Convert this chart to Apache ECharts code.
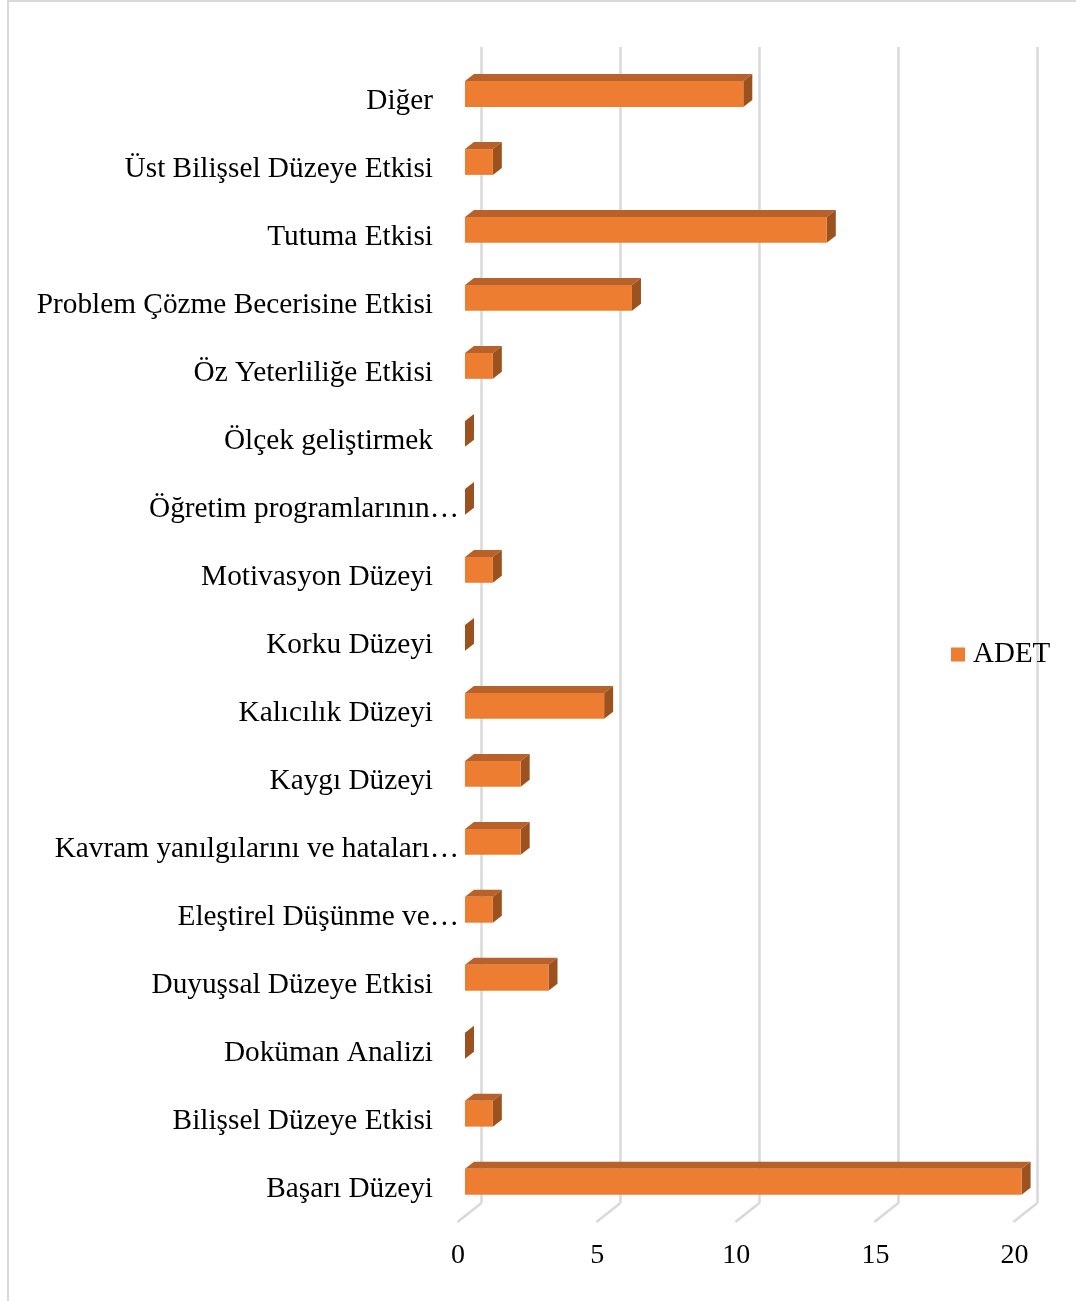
<!DOCTYPE html>
<html>
<head>
<meta charset="utf-8">
<title>ADET</title>
<script src="https://cdn.jsdelivr.net/npm/echarts@6/dist/echarts.min.js"></script>
<style>
  html, body { margin: 0; padding: 0; background: #ffffff; }
  #chart { width: 1076px; height: 1301px; }
</style>
</head>
<body>
<div id="chart"></div>
<script>
// Categories listed bottom → top, as on the category axis
const categories = [
  'Başarı Düzeyi',
  'Bilişsel Düzeye Etkisi',
  'Doküman Analizi',
  'Duyuşsal Düzeye Etkisi',
  'Eleştirel Düşünme ve…',
  'Kavram yanılgılarını ve hataları…',
  'Kaygı Düzeyi',
  'Kalıcılık Düzeyi',
  'Korku Düzeyi',
  'Motivasyon Düzeyi',
  'Öğretim programlarının…',
  'Ölçek geliştirmek',
  'Öz Yeterliliğe Etkisi',
  'Problem Çözme Becerisine Etkisi',
  'Tutuma Etkisi',
  'Üst Bilişsel Düzeye Etkisi',
  'Diğer'
];
const adet = [20, 1, 0, 3, 1, 2, 2, 5, 0, 1, 0, 0, 1, 6, 13, 1, 10];
const xTicks = [0, 5, 10, 15, 20];
const seriesName = 'ADET';

const FONT = "'Liberation Serif', 'Times New Roman', serif";
const GRID_COLOR = '#d9d9d9';
const FRONT = '#ED7D31';
const TOP = '#B8612A';
const SIDE = '#9C521F';
const DEPTH_X = 9, DEPTH_Y = -7;

const chart = echarts.init(document.getElementById('chart'), null, { renderer: 'canvas' });

// 3D box: front face, top face and right side face
function renderBar(params, api) {
  const idx = api.value(1);
  const v = api.value(0);
  const p0 = api.coord([0, idx]);
  const p1 = api.coord([v, idx]);
  const h = api.size([0, 1])[1] * 0.38;
  const x0 = p0[0], x1 = p1[0];
  const yT = p1[1] - h / 2, yB = p1[1] + h / 2;
  return {
    type: 'group',
    children: [
      { type: 'polygon', shape: { points: [[x0, yT], [x1, yT], [x1 + DEPTH_X, yT + DEPTH_Y], [x0 + DEPTH_X, yT + DEPTH_Y]] },
        style: { fill: TOP } },
      { type: 'polygon', shape: { points: [[x1, yT], [x1 + DEPTH_X, yT + DEPTH_Y], [x1 + DEPTH_X, yB + DEPTH_Y], [x1, yB]] },
        style: { fill: SIDE } },
      { type: 'rect', shape: { x: x0, y: yT, width: x1 - x0, height: h },
        style: { fill: FRONT } }
    ]
  };
}

// Floor lines running forward from the foot of each back-wall gridline
function renderFloor(params, api) {
  const p = api.coord([api.value(0), 0]);
  return {
    type: 'line',
    shape: { x1: p[0], y1: p[1], x2: p[0] - 24, y2: p[1] + 19 },
    style: { stroke: GRID_COLOR, lineWidth: 2.5 }
  };
}

const shortLabels = new Set(categories.filter(c => !c.endsWith('…')));

const option = {
  backgroundColor: '#ffffff',
  animation: false,
  graphic: [{
    type: 'rect',
    shape: { x: 8, y: 1, width: 1200, height: 1400 },
    style: { fill: 'none', stroke: GRID_COLOR, lineWidth: 2 },
    silent: true, z: -10
  }],
  legend: {
    data: [seriesName],
    left: 946,
    top: 635,
    icon: 'rect',
    itemWidth: 14,
    itemHeight: 14,
    textStyle: { fontFamily: FONT, fontSize: 29, color: '#000', padding: [0, 0, 0, 3] }
  },
  grid: [
    { left: 481.5, right: 38.7, top: 47, bottom: 98 },
    { left: 465, right: 54.4, top: 60, bottom: 85.3 }
  ],
  xAxis: [
    {
      gridIndex: 0, type: 'value', min: 0, max: 20, interval: 5,
      axisLine: { show: false }, axisTick: { show: false }, axisLabel: { show: false },
      splitLine: { show: true, lineStyle: { color: GRID_COLOR, width: 2.5 } }
    },
    {
      gridIndex: 1, type: 'value', min: 0, max: 20, interval: 5,
      axisLine: { show: false }, axisTick: { show: false },
      splitLine: { show: false },
      axisLabel: {
        show: true, margin: 26,
        formatter: v => '{t|' + v + '}',
        rich: { t: { fontFamily: FONT, fontSize: 28, color: '#000', padding: [0, 14, 0, 0] } }
      }
    }
  ],
  yAxis: [
    { gridIndex: 0, type: 'value', min: 0, max: 1, show: false },
    {
      gridIndex: 1, type: 'category', data: categories,
      axisLine: { show: false }, axisTick: { show: false }, splitLine: { show: false },
      axisLabel: {
        show: true, margin: 6, interval: 0,
        formatter: v => shortLabels.has(v) ? '{n|' + v + '}' : '{e|' + v + '}',
        rich: {
          n: { fontFamily: FONT, fontSize: 29.3, color: '#000', padding: [15, 26, 0, 0] },
          e: { fontFamily: FONT, fontSize: 29.3, color: '#000', padding: [15, 0, 0, 0] }
        }
      }
    }
  ],
  series: [
    {
      type: 'custom', name: 'floor', xAxisIndex: 0, yAxisIndex: 0,
      data: xTicks.map(t => [t]), renderItem: renderFloor, silent: true, z: 1
    },
    {
      type: 'custom', name: seriesName, xAxisIndex: 1, yAxisIndex: 1,
      itemStyle: { color: FRONT },
      data: adet.map((v, i) => [v, i]),
      encode: { x: 0, y: 1 },
      renderItem: renderBar, z: 5
    }
  ]
};

chart.setOption(option);
</script>
</body>
</html>
